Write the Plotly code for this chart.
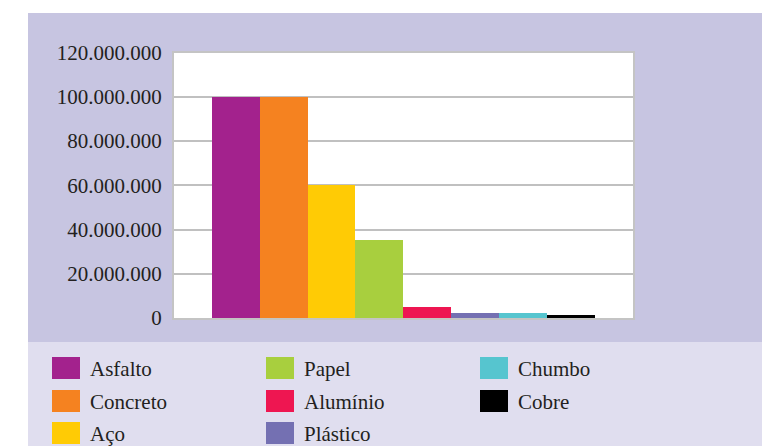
import plotly.graph_objects as go

# ---- data ----
materials = ["Asfalto", "Concreto", "Aço", "Papel", "Alumínio", "Plástico", "Chumbo", "Cobre"]
values = [100_000_000, 100_000_000, 60_500_000, 35_500_000, 5_200_000, 2_500_000, 2_500_000, 1_400_000]
colors = ["#A3228D", "#F58220", "#FFCB05", "#A8CF3E", "#EE1651", "#7470B2", "#56C5CF", "#000000"]
y_ticks = [0, 20_000_000, 40_000_000, 60_000_000, 80_000_000, 100_000_000, 120_000_000]

W, H = 762, 446
FONT = "Liberation Serif"
FSIZE = 21
TXT = "#231F20"

def px_x(px):
    return px / W

def px_y(py):
    return (H - py) / H

fig = go.Figure()
fig.add_trace(go.Bar(
    x=list(range(len(materials))), y=values, marker_color=colors,
    marker_line_width=0, showlegend=False,
    hovertext=materials,
))

shapes = [
    # upper lavender band
    dict(type="rect", xref="paper", yref="paper", x0=px_x(28), x1=1, y0=px_y(342), y1=px_y(13),
         fillcolor="#C7C5E1", line_width=0, layer="below"),
    # lighter legend band
    dict(type="rect", xref="paper", yref="paper", x0=px_x(28), x1=1, y0=0, y1=px_y(342),
         fillcolor="#E0DEEF", line_width=0, layer="below"),
    # white plotting area
    dict(type="rect", xref="x domain", yref="y domain", x0=0, x1=1, y0=0, y1=1,
         fillcolor="white", line_width=0, layer="below"),
]
annotations = []

# legend laid out column-wise (3 rows per column)
col_x = [52, 266, 480]
row_y = [368, 401, 433]
for i, (name, col) in enumerate(zip(materials, colors)):
    c, r = divmod(i, 3)
    x0 = col_x[c]
    yc = row_y[r]
    shapes.append(dict(type="rect", xref="paper", yref="paper",
                       x0=px_x(x0), x1=px_x(x0 + 28), y0=px_y(yc + 11), y1=px_y(yc - 11),
                       fillcolor=col, line_width=0))
    annotations.append(dict(xref="paper", yref="paper", x=px_x(x0 + 36), y=px_y(yc + 1),
                            xanchor="left", yanchor="middle", text=name, showarrow=False,
                            font=dict(family=FONT, size=FSIZE, color=TXT)))

fig.update_layout(
    width=W, height=H,
    margin=dict(l=0, r=0, t=0, b=0, pad=0, autoexpand=False),
    paper_bgcolor="white",
    plot_bgcolor="white",
    separators=",.",
    bargap=0,
    shapes=shapes,
    annotations=annotations,
    xaxis=dict(
        domain=[174 / W, 633 / W],
        range=[-1.287, 8.293],
        showticklabels=False, showgrid=False, zeroline=False,
        showline=True, mirror=True, linecolor="#C4C4C4", linewidth=2,
        ticks="", automargin=False,
    ),
    yaxis=dict(
        domain=[px_y(318), px_y(52.7)],
        range=[0, 120_000_000],
        tickvals=y_ticks, tickformat=",d",
        showgrid=True, gridcolor="#C0C0C0", gridwidth=2,
        zeroline=False,
        showline=True, mirror=True, linecolor="#C4C4C4", linewidth=2,
        ticks="", ticklabelstandoff=6, automargin=False,
        tickfont=dict(family=FONT, size=FSIZE, color=TXT),
    ),
)

fig.write_html("out.html")
